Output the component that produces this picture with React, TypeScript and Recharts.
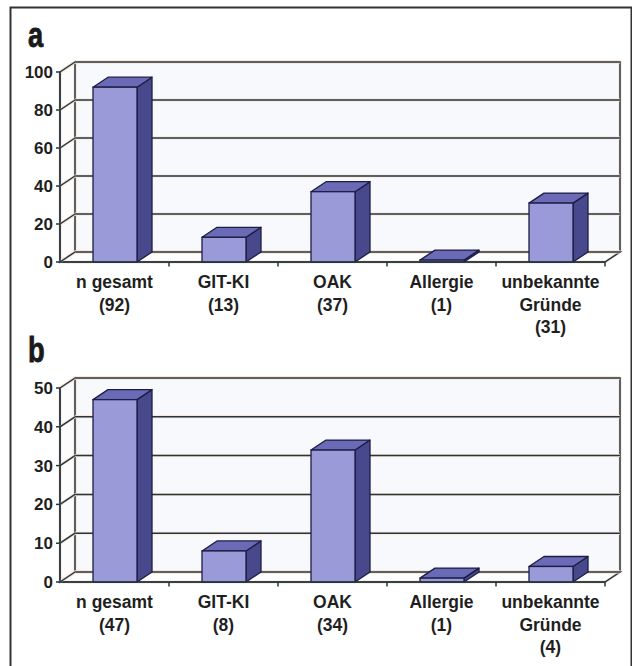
import React from 'react';
import { BarChart, Bar, XAxis, YAxis, CartesianGrid } from 'recharts';

const categories = ['n gesamt', 'GIT-KI', 'OAK', 'Allergie', 'unbekannte Gründe'];
const labelLines = [['n gesamt'], ['GIT-KI'], ['OAK'], ['Allergie'], ['unbekannte', 'Gründe']];
const valuesA = [92, 13, 37, 1, 31];
const valuesB = [47, 8, 34, 1, 4];
const ticksA = [0, 20, 40, 60, 80, 100];
const ticksB = [0, 10, 20, 30, 40, 50];

// 3d depth offset of the excel-style columns
const DX = 15;
const DY = -10;

const LINE = '#24383f';
const HALO = '#f8e2d4';
const FRONT = '#9a9ad8';
const TOP = '#6a6ab6';
const SIDE = '#48488c';
const EDGE = '#1d1d45';
const FONT = "'Liberation Sans', Arial, sans-serif";

const Seg = ({ x1, y1, x2, y2 }: any) => (
  <g>
    <line x1={x1} y1={y1} x2={x2} y2={y2} stroke={HALO} strokeWidth={3} />
    <line x1={x1} y1={y1} x2={x2} y2={y2} stroke={LINE} strokeWidth={1.5} />
  </g>
);

const Poly = ({ points, fill }: any) => (
  <g>
    <polygon points={points} fill={fill} stroke={HALO} strokeWidth={3} strokeLinejoin="round" />
    <polygon points={points} fill="none" stroke={LINE} strokeWidth={1.5} />
  </g>
);

const Box3D = (props: any) => {
  const { x, y, width, height } = props;
  if (x == null || y == null) return null;
  const x2 = x + width;
  const y2 = y + height;
  return (
    <g>
      <polygon
        points={`${x2},${y} ${x2 + DX},${y + DY} ${x2 + DX},${y2 + DY} ${x2},${y2}`}
        fill={SIDE}
        stroke={EDGE}
        strokeWidth={1.3}
        strokeLinejoin="round"
      />
      <polygon
        points={`${x},${y} ${x + DX},${y + DY} ${x2 + DX},${y + DY} ${x2},${y}`}
        fill={TOP}
        stroke={EDGE}
        strokeWidth={1.3}
        strokeLinejoin="round"
      />
      <rect x={x} y={y} width={width} height={height} fill={FRONT} stroke={EDGE} strokeWidth={1.3} />
    </g>
  );
};

// horizontal grid: back-wall lines + side-wall diagonals; walls and floor ticks drawn once
const makeGridLine = (top: number, plotH: number) => (p: any) => {
  const { x1, x2, y1, index } = p;
  const T = p.y ?? top;
  const B = T + (p.height ?? plotH);
  const L = x1;
  const R = x2;
  const band = (R - L) / categories.length;
  return (
    <g key={`h-${index}`}>
      {index === 0 && (
        <g>
          <Poly
            points={`${L + DX},${T + DY} ${R + DX},${T + DY} ${R + DX},${B + DY} ${L + DX},${B + DY}`}
            fill="#f8f9fc"
          />
          <Poly points={`${L},${T} ${L + DX},${T + DY} ${L + DX},${B + DY} ${L},${B}`} fill="#fdfcfc" />
          <Poly points={`${L},${B} ${L + DX},${B + DY} ${R + DX},${B + DY} ${R},${B}`} fill="#fefdfd" />
          {categories.slice(1).map((_, k) => (
            <line
              key={k}
              x1={L + band * (k + 1)}
              y1={B}
              x2={L + band * (k + 1)}
              y2={B + 4.5}
              stroke={LINE}
              strokeWidth={1.5}
            />
          ))}
          <line x1={R} y1={B} x2={R} y2={B + 4.5} stroke={LINE} strokeWidth={1.5} />
        </g>
      )}
      <Seg x1={L + DX} y1={y1 + DY} x2={R + DX} y2={y1 + DY} />
      <Seg x1={L} y1={y1} x2={L + DX} y2={y1 + DY} />
    </g>
  );
};

const makeCategoryTick = (values: number[]) => (props: any) => {
  const { x, y, payload } = props;
  const i = categories.indexOf(payload.value);
  const lines = [...labelLines[i], `(${values[i]})`];
  return (
    <text
      x={x}
      y={y}
      textAnchor="middle"
      fill="#1f1f1f"
      fontFamily={FONT}
      fontWeight="bold"
      fontSize={17.5}
    >
      {lines.map((l, k) => (
        <tspan key={k} x={x} dy={k === 0 ? 26 : 22.5}>
          {l}
        </tspan>
      ))}
    </text>
  );
};

const Panel = ({
  values,
  ticks,
  max,
  top,
  height,
  plotH,
}: {
  values: number[];
  ticks: number[];
  max: number;
  top: number;
  height: number;
  plotH: number;
}) => {
  const data = categories.map((c, i) => ({ name: c, value: values[i] }));
  return (
    <div style={{ position: 'absolute', left: 0, top }}>
      <BarChart width={632} height={height} data={data} margin={{ top: 32, right: 27, bottom: 2, left: 15 }}>
        <CartesianGrid horizontal={makeGridLine(32, plotH)} vertical={false} stroke={LINE} />
        <XAxis
          dataKey="name"
          tick={makeCategoryTick(values)}
          tickLine={false}
          tickSize={0}
          tickMargin={0}
          axisLine={{ stroke: LINE, strokeWidth: 1.5 }}
          height={height - 32 - plotH - 2}
          interval={0}
        />
        <YAxis
          domain={[0, max]}
          ticks={ticks}
          interval={0}
          width={45}
          tickSize={4}
          tickMargin={3}
          tickLine={{ stroke: LINE, strokeWidth: 1.5 }}
          axisLine={{ stroke: LINE, strokeWidth: 1.5 }}
          tick={{ fill: '#1f1f1f', fontFamily: FONT, fontWeight: 'bold', fontSize: 17 }}
        />
        <Bar dataKey="value" barSize={44} shape={Box3D} isAnimationActive={false} />
      </BarChart>
    </div>
  );
};

export default function App() {
  return (
    <div style={{ position: 'absolute', left: 0, top: 0, width: 632, height: 666, background: '#fff', overflow: 'hidden' }}>
      <svg width={632} height={666} style={{ position: 'absolute', left: 0, top: 0 }}>
        <rect x={10.5} y={7.5} width={621} height={670} fill="none" stroke="#333" strokeWidth={2} />
        <text
          x={28}
          y={47}
          fontFamily={FONT}
          fontWeight="bold"
          fontSize={35}
          fill="#1a1a1a"
          stroke="#1a1a1a"
          strokeWidth={0.8}
          transform="translate(28 47) scale(0.78 1) translate(-28 -47)"
        >
          a
        </text>
        <text
          x={28}
          y={362}
          fontFamily={FONT}
          fontWeight="bold"
          fontSize={35}
          fill="#1a1a1a"
          stroke="#1a1a1a"
          strokeWidth={0.8}
          transform="translate(28 362) scale(0.78 1) translate(-28 -362)"
        >
          b
        </text>
      </svg>
      <Panel values={valuesA} ticks={ticksA} max={100} top={40} height={302} plotH={190} />
      <Panel values={valuesB} ticks={ticksB} max={50} top={356} height={306} plotH={194} />
    </div>
  );
}
